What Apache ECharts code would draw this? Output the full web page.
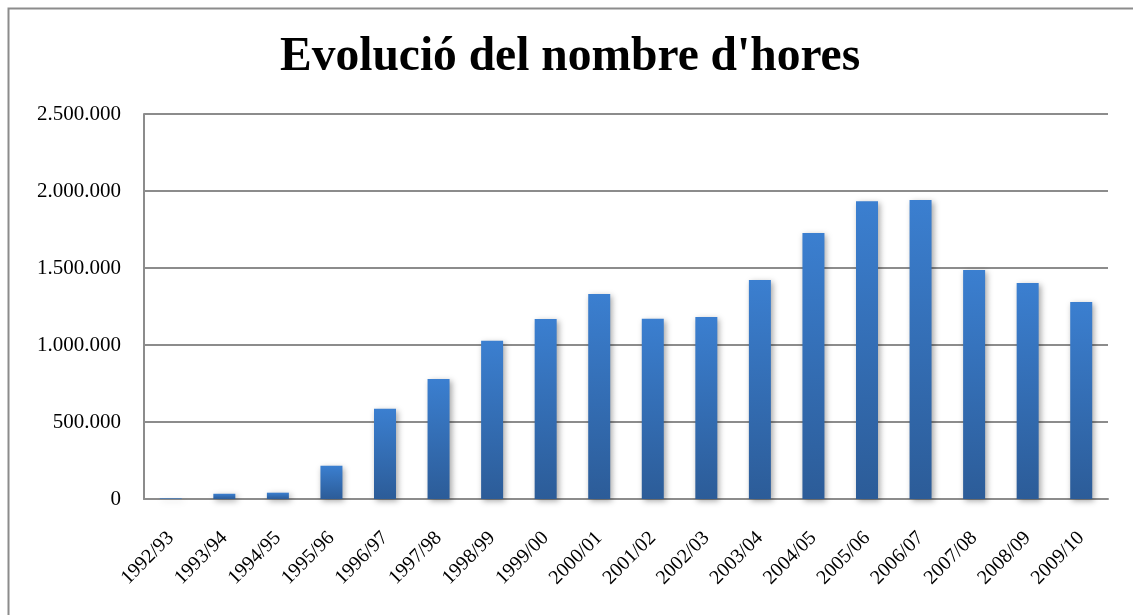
<!DOCTYPE html>
<html lang="ca">
<head>
    <meta charset="UTF-8"/>
    <title>Evolució del nombre d'hores</title>
    <script src="https://cdn.jsdelivr.net/npm/echarts@6/dist/echarts.min.js"></script>
    <style>
        html, body { margin: 0; padding: 0; background: #fff; }
    </style>
</head>
<body>
<div id="main" style="width: 1133px;height:615px;"></div>

<script type="text/javascript">
    // cursos acadèmics
    var cursos = ['1992/93', '1993/94', '1994/95', '1995/96', '1996/97', '1997/98',
        '1998/99', '1999/00', '2000/01', '2001/02', '2002/03', '2003/04',
        '2004/05', '2005/06', '2006/07', '2007/08', '2008/09', '2009/10'];
    // nombre d'hores (llegit del gràfic)
    var hores = [4000, 34000, 41000, 216000, 586000, 780000,
        1027000, 1169000, 1331000, 1170000, 1182000, 1422000,
        1727000, 1934000, 1941000, 1487000, 1403000, 1280000];

    var myChart = echarts.init(document.getElementById('main'));

    var serif = '"Liberation Serif", "DejaVu Serif", serif';

    function format(v) {
        return String(v).replace(/\B(?=(\d{3})+(?!\d))/g, '.');
    }

    var option = {
        animation: false,
        backgroundColor: '#fff',
        title: {
            text: "Evolució del nombre d'hores",
            left: 275,
            top: 29,
            textStyle: {
                fontFamily: serif,
                fontWeight: 'bold',
                fontSize: 47.5,
                color: '#000'
            }
        },
        graphic: [{
            type: 'rect',
            left: 6,
            top: 6,
            shape: { width: 1140, height: 620 },
            style: { fill: 'none', stroke: '#8c8c8c', lineWidth: 2 },
            silent: true
        }],
        grid: {
            left: 144,
            top: 114,
            width: 964,
            height: 385
        },
        xAxis: {
            type: 'category',
            data: cursos,
            axisTick: { show: false },
            axisLine: { lineStyle: { color: '#8c8c8c', width: 2 } },
            axisLabel: {
                rotate: 45,
                margin: 36,
                fontFamily: serif,
                fontSize: 20,
                color: '#000'
            }
        },
        yAxis: {
            type: 'value',
            min: 0,
            max: 2500000,
            interval: 500000,
            axisLine: { show: true, lineStyle: { color: '#8c8c8c', width: 2 } },
            axisTick: { show: false },
            splitLine: { lineStyle: { color: '#8c8c8c', width: 2 } },
            axisLabel: {
                margin: 23,
                fontFamily: serif,
                fontSize: 21,
                color: '#000',
                formatter: format
            }
        },
        series: [{
            type: 'bar',
            data: hores,
            barWidth: 22,
            itemStyle: {
                color: new echarts.graphic.LinearGradient(0, 0, 0, 1, [
                    { offset: 0, color: '#3b7fd0' },
                    { offset: 1, color: '#2c5c98' }
                ]),
                shadowBlur: 6,
                shadowOffsetX: 2,
                shadowOffsetY: 2,
                shadowColor: 'rgba(0, 0, 0, 0.35)'
            }
        }]
    };

    myChart.setOption(option);
</script>

</body>
</html>
